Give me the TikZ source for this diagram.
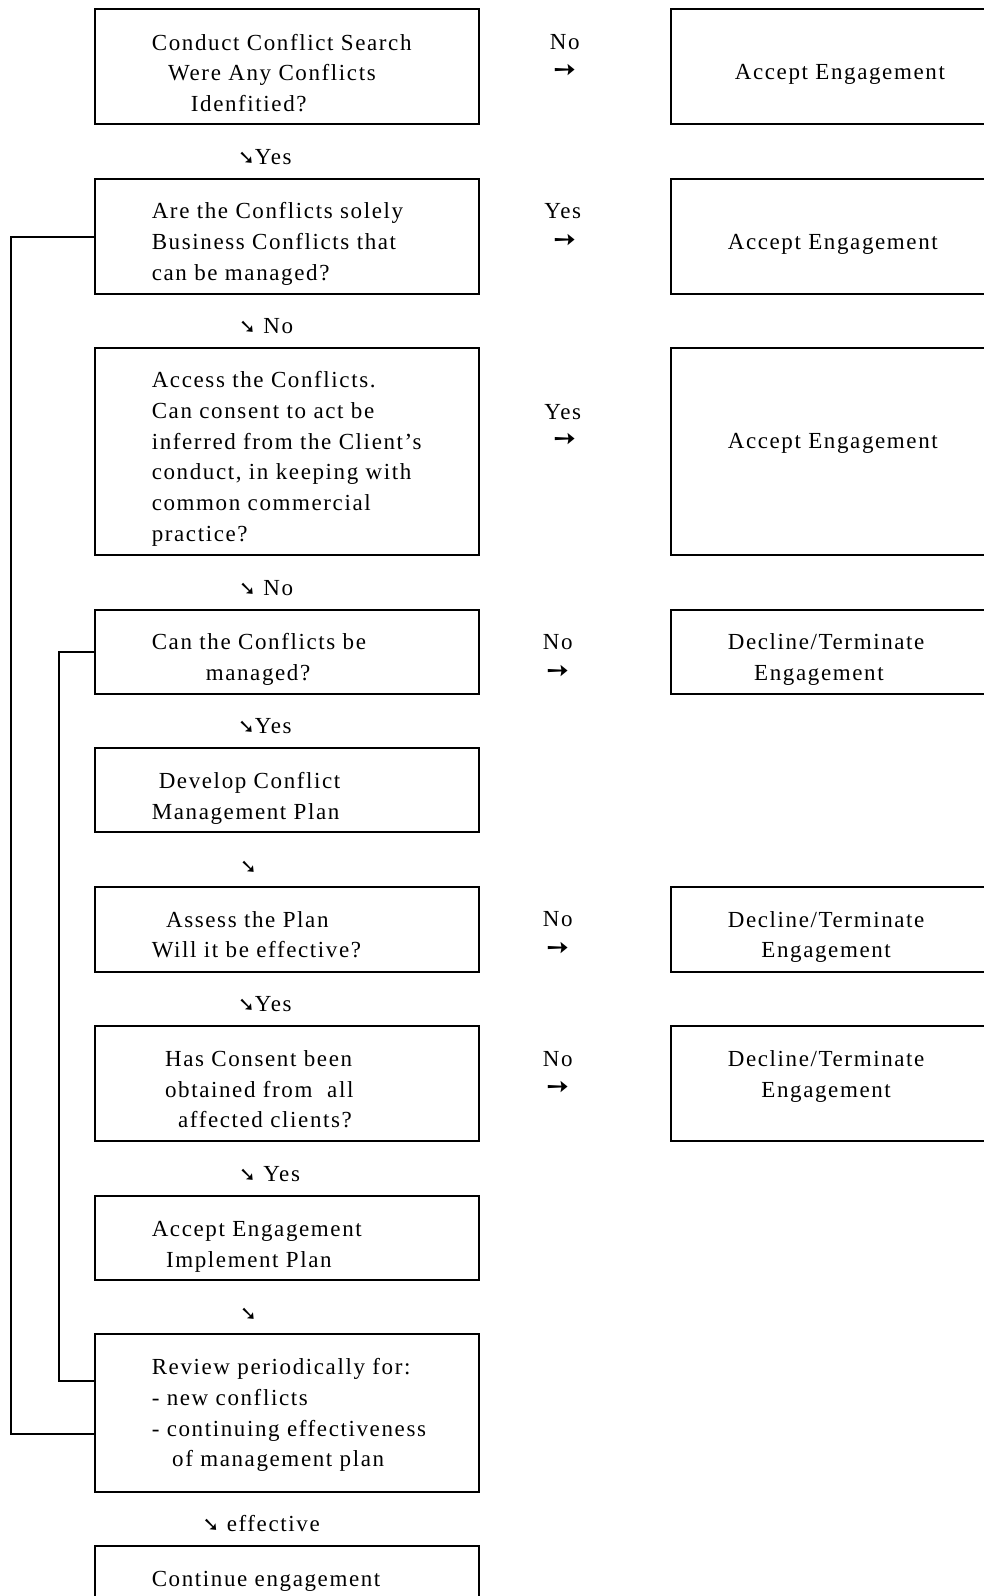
\documentclass[tikz,border=0pt]{standalone}
\usepackage{fontspec}
\setmainfont{Liberation Serif}[LetterSpace=7]
\newfontfamily\symf{DejaVu Sans}
\newcommand{\bodyfont}{\fontsize{23}{30.7}\selectfont}
\newcommand{\se}{{\symf\fontsize{20}{20}\selectfont ➘}}
\newcommand{\ra}{{\symf\fontsize{27}{27}\selectfont ➙}}
\begin{document}
\begin{tikzpicture}[x=1pt,y=-1pt,
  box/.style={draw, line width=2pt, inner sep=0pt, outer sep=0pt, anchor=north west, minimum width=384.7pt},
  rbox/.style={draw, line width=2pt, inner sep=0pt, outer sep=0pt, anchor=north west, minimum width=340pt},
  txt/.style={inner sep=0pt, anchor=north west, align=left, font=\bodyfont},
  lbl/.style={inner sep=0pt, anchor=base west, font=\bodyfont},
  clbl/.style={inner sep=0pt, anchor=base, font=\bodyfont},
  arr/.style={inner sep=0pt, anchor=center},
  conn/.style={line width=2pt}]
\useasboundingbox (0,0) rectangle (984,1596);
\clip (0,0) rectangle (984,1596);
% left boxes
\node[box, minimum height=114.9pt] (b1) at (94.6,9.2) {};
\node[box, minimum height=115pt] (b2) at (94.6,179.1) {};
\node[box, minimum height=206.6pt] (b3) at (94.6,348) {};
\node[box, minimum height=84.5pt] (b4) at (94.6,609.5) {};
\node[box, minimum height=84.4pt] (b5) at (94.6,748) {};
\node[box, minimum height=84.5pt] (b6) at (94.6,887.3) {};
\node[box, minimum height=115pt] (b7) at (94.6,1025.7) {};
\node[box, minimum height=84.4pt] (b8) at (94.6,1195.7) {};
\node[box, minimum height=157.7pt] (b9) at (94.6,1334.1) {};
\node[box, minimum height=90pt] (b10) at (94.6,1545.7) {};
% right boxes
\node[rbox, minimum height=114.9pt] (r1) at (670.6,9.2) {};
\node[rbox, minimum height=115pt] (r2) at (670.6,179.1) {};
\node[rbox, minimum height=206.6pt] (r3) at (670.6,348) {};
\node[rbox, minimum height=84.5pt] (r4) at (670.6,609.5) {};
\node[rbox, minimum height=84.5pt] (r6) at (670.6,887.3) {};
\node[rbox, minimum height=115pt] (r7) at (670.6,1025.7) {};
% left texts (top = first baseline - 21.5)
\node[txt] (t1) at (151.7,28.5) {\strut Conduct Conflict Search\\\hspace*{16.3pt}Were Any Conflicts\\\hspace*{39pt}Idenfitied?};
\node[txt] (t2) at (151.6,197.1) {\strut Are the Conflicts solely\\Business Conflicts that\\can be managed?};
\node[txt] (t3) at (151.6,366.1) {\strut Access the Conflicts.\\Can consent to act be\\inferred from the Client’s\\conduct, in keeping with\\common commercial\\practice?};
\node[txt] (t4) at (151.6,627.6) {\strut Can the Conflicts be\\\hspace*{54pt}managed?};
\node[txt] (t5) at (151.6,767) {\strut\hspace*{7pt}Develop Conflict\\Management Plan};
\node[txt] (t6) at (151.6,905.4) {\strut\hspace*{14.3pt}Assess the Plan\\Will it be effective?};
\node[txt] (t7) at (164.9,1044.8) {\strut Has Consent been\\obtained from \ all\\\hspace*{13pt}affected clients?};
\node[txt] (t8) at (151.6,1214.7) {\strut Accept Engagement\\\hspace*{14.3pt}Implement Plan};
\node[txt] (t9) at (151.6,1353.1) {\strut Review periodically for:\\- new conflicts\\- continuing effectiveness\\\hspace*{20.4pt}of management plan};
\node[txt] (t10) at (151.6,1564.8) {\strut Continue engagement};
% right texts
\node[lbl] (rt1) at (734.7,79.2) {Accept Engagement};
\node[lbl] (rt2) at (727.6,249.2) {Accept Engagement};
\node[lbl] (rt3) at (727.6,448.6) {Accept Engagement};
\node[txt] (rt4) at (727.6,627.6) {\strut Decline/Terminate\\\hspace*{26.4pt}Engagement};
\node[txt] (rt6) at (727.6,905.4) {\strut Decline/Terminate\\\hspace*{33.6pt}Engagement};
\node[txt] (rt7) at (727.6,1044.8) {\strut Decline/Terminate\\\hspace*{33.6pt}Engagement};
% side labels
\node[clbl] (s1) at (564.8,49.7) {No};
\node[arr] (a1) at (564.8,71.2) {\ra};
\node[clbl] (s2) at (562.7,218.6) {Yes};
\node[arr] (a2) at (564.8,241.2) {\ra};
\node[clbl] (s3) at (562.7,419.1) {Yes};
\node[arr] (a3) at (564.8,440.6) {\ra};
\node[clbl] (s4) at (557.7,649.1) {No};
\node[arr] (a4) at (557.7,672.6) {\ra};
\node[clbl] (s6) at (557.7,926.9) {No};
\node[arr] (a6) at (557.7,949.4) {\ra};
\node[clbl] (s7) at (557.7,1066.3) {No};
\node[arr] (a7) at (557.7,1088.8) {\ra};
% down labels
\node[lbl] (d1) at (238,164) {\se Yes};
\node[lbl] (d2) at (239,333.6) {\se\ No};
\node[lbl] (d3) at (239,595.2) {\se\ No};
\node[lbl] (d4) at (238,733.6) {\se Yes};
\node[lbl] (d5) at (240,873) {\se};
\node[lbl] (d6) at (238,1011.4) {\se Yes};
\node[lbl] (d7) at (239,1181.3) {\se\ Yes};
\node[lbl] (d8) at (240,1320.7) {\se};
\node[lbl] (d9) at (202.5,1531.3) {\se\ effective};
% feedback connectors
\coordinate (ol) at (11.2,1433.8);
\coordinate (il) at (59,1380.9);
\draw[conn] (b2.west) -| (ol) -- (ol -| b9.west);
\draw[conn] (b4.west) -| (il) -- (il -| b9.west);
\end{tikzpicture}
\end{document}
